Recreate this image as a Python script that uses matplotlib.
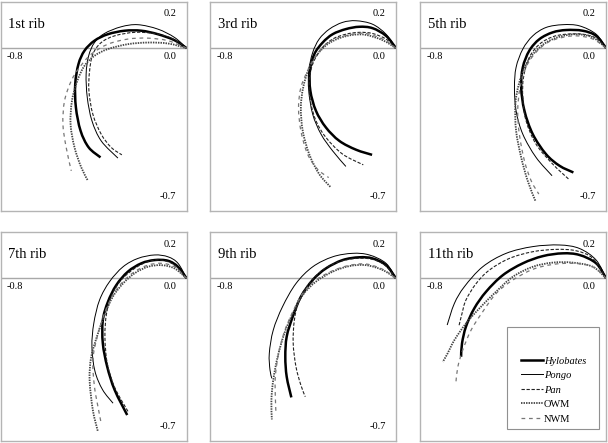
import matplotlib
matplotlib.use("Agg")
import matplotlib.pyplot as plt
import numpy as np
from matplotlib.path import Path
from matplotlib.patches import PathPatch, Rectangle
from matplotlib.lines import Line2D

plt.rcParams['font.family'] = ['Liberation Serif', 'DejaVu Serif']

# rib outlines, (x, y) pairs
# 1st rib
r1_hyl = [(0, 0), (-0.052, 0.034), (-0.124, 0.060), (-0.195, 0.075), (-0.267, 0.075), (-0.339, 0.060),
          (-0.397, 0.032), (-0.440, -0.011), (-0.466, -0.069), (-0.480, -0.155), (-0.477, -0.256),
          (-0.457, -0.356), (-0.422, -0.428), (-0.371, -0.471)]
r1_pon = [(0, 0), (-0.052, 0.046), (-0.124, 0.082), (-0.210, 0.101), (-0.282, 0.092), (-0.354, 0.063),
          (-0.397, 0.024), (-0.422, -0.033), (-0.433, -0.112), (-0.428, -0.213), (-0.408, -0.313),
          (-0.368, -0.400), (-0.296, -0.474)]
r1_pan = [(0, 0), (-0.066, 0.043), (-0.138, 0.063), (-0.224, 0.068), (-0.310, 0.053), (-0.368, 0.024),
          (-0.404, -0.026), (-0.418, -0.098), (-0.421, -0.184), (-0.404, -0.285), (-0.368, -0.371),
          (-0.325, -0.428), (-0.279, -0.460)]
r1_owm = [(0, 0), (-0.080, 0.020), (-0.167, 0.024), (-0.253, 0.017), (-0.339, -0.004), (-0.397, -0.033),
          (-0.440, -0.076), (-0.471, -0.141), (-0.494, -0.227), (-0.500, -0.328), (-0.483, -0.428),
          (-0.454, -0.514), (-0.425, -0.572)]
r1_nwm = [(0, 0), (-0.080, 0.032), (-0.167, 0.043), (-0.253, 0.039), (-0.339, 0.017), (-0.411, -0.026),
          (-0.461, -0.083), (-0.497, -0.141), (-0.526, -0.227), (-0.533, -0.328), (-0.519, -0.428),
          (-0.497, -0.529)]

# 3rd rib
r3_hyl = [(0, 0), (-0.043, 0.053), (-0.101, 0.086), (-0.158, 0.092), (-0.216, 0.082), (-0.273, 0.060),
          (-0.316, 0.024), (-0.352, -0.026), (-0.371, -0.098), (-0.369, -0.184), (-0.345, -0.270),
          (-0.302, -0.342), (-0.244, -0.400), (-0.172, -0.438), (-0.103, -0.460)]
r3_pon = [(0, 0), (-0.043, 0.060), (-0.101, 0.103), (-0.172, 0.118), (-0.230, 0.111), (-0.287, 0.082),
          (-0.331, 0.039), (-0.359, -0.019), (-0.376, -0.098), (-0.376, -0.184), (-0.359, -0.285),
          (-0.323, -0.371), (-0.273, -0.443), (-0.216, -0.510)]
r3_pan = [(0, 0), (-0.043, 0.039), (-0.101, 0.063), (-0.158, 0.068), (-0.216, 0.060), (-0.273, 0.039),
          (-0.323, -0.004), (-0.359, -0.069), (-0.374, -0.141), (-0.369, -0.227), (-0.345, -0.313),
          (-0.302, -0.385), (-0.230, -0.457), (-0.141, -0.503)]
r3_owm = [(0, 0), (-0.057, 0.034), (-0.129, 0.057), (-0.187, 0.057), (-0.244, 0.043), (-0.295, 0.017),
          (-0.338, -0.026), (-0.374, -0.083), (-0.400, -0.170), (-0.410, -0.256), (-0.402, -0.356),
          (-0.374, -0.457), (-0.331, -0.543), (-0.280, -0.601)]
r3_nwm = [(0, 0), (-0.057, 0.039), (-0.129, 0.063), (-0.187, 0.060), (-0.244, 0.046), (-0.302, 0.017),
          (-0.345, -0.033), (-0.381, -0.098), (-0.410, -0.170), (-0.420, -0.256), (-0.410, -0.356),
          (-0.381, -0.457), (-0.338, -0.522), (-0.290, -0.558)]

# 5th rib
r5_hyl = [(0, 0), (-0.043, 0.053), (-0.101, 0.075), (-0.172, 0.078), (-0.230, 0.068), (-0.287, 0.039),
          (-0.331, -0.011), (-0.359, -0.083), (-0.366, -0.170), (-0.352, -0.270), (-0.316, -0.371),
          (-0.259, -0.457), (-0.201, -0.507), (-0.141, -0.536)]
r5_pon = [(0, 0), (-0.043, 0.060), (-0.115, 0.096), (-0.187, 0.101), (-0.259, 0.089), (-0.316, 0.053),
          (-0.359, -0.004), (-0.388, -0.083), (-0.395, -0.170), (-0.388, -0.270), (-0.359, -0.371),
          (-0.302, -0.471), (-0.233, -0.550)]
r5_pan = [(0, 0), (-0.043, 0.043), (-0.101, 0.060), (-0.172, 0.060), (-0.230, 0.049), (-0.287, 0.017),
          (-0.331, -0.040), (-0.356, -0.126), (-0.359, -0.213), (-0.345, -0.313), (-0.302, -0.414),
          (-0.230, -0.500), (-0.161, -0.565)]
r5_owm = [(0, 0), (-0.057, 0.046), (-0.129, 0.060), (-0.201, 0.049), (-0.259, 0.024), (-0.309, -0.019),
          (-0.348, -0.076), (-0.376, -0.155), (-0.391, -0.241), (-0.388, -0.356), (-0.366, -0.471),
          (-0.338, -0.572), (-0.305, -0.658)]
r5_nwm = [(0, 0), (-0.057, 0.039), (-0.129, 0.053), (-0.201, 0.043), (-0.259, 0.020), (-0.309, -0.026),
          (-0.345, -0.083), (-0.371, -0.170), (-0.381, -0.270), (-0.374, -0.371), (-0.352, -0.486),
          (-0.323, -0.572), (-0.290, -0.629)]

# 7th rib
r7_hyl = [(0, 0), (-0.037, 0.050), (-0.080, 0.076), (-0.138, 0.079), (-0.195, 0.065), (-0.253, 0.029),
          (-0.303, -0.029), (-0.339, -0.101), (-0.361, -0.180), (-0.361, -0.280), (-0.342, -0.381),
          (-0.310, -0.481), (-0.256, -0.589)]
r7_pon = [(0, 0), (-0.037, 0.065), (-0.080, 0.093), (-0.138, 0.101), (-0.210, 0.086), (-0.274, 0.050),
          (-0.332, -0.014), (-0.375, -0.093), (-0.400, -0.194), (-0.408, -0.295), (-0.395, -0.400),
          (-0.362, -0.480), (-0.317, -0.538)]
r7_pan = [(0, 0), (-0.052, 0.057), (-0.109, 0.079), (-0.167, 0.072), (-0.224, 0.043), (-0.282, -0.007),
          (-0.322, -0.072), (-0.345, -0.151), (-0.352, -0.251), (-0.342, -0.366), (-0.310, -0.470),
          (-0.250, -0.578)]
r7_owm = [(0, 0), (-0.052, 0.043), (-0.109, 0.057), (-0.167, 0.050), (-0.224, 0.022), (-0.274, -0.022),
          (-0.318, -0.079), (-0.351, -0.151), (-0.382, -0.237), (-0.411, -0.338), (-0.418, -0.438),
          (-0.404, -0.568), (-0.382, -0.661)]
r7_nwm = [(0, 0), (-0.052, 0.050), (-0.109, 0.065), (-0.167, 0.057), (-0.224, 0.029), (-0.274, -0.014),
          (-0.318, -0.072), (-0.354, -0.151), (-0.385, -0.251), (-0.404, -0.352), (-0.397, -0.467),
          (-0.382, -0.553), (-0.368, -0.625)]

# 9th rib
r9_hyl = [(0, 0), (-0.043, 0.057), (-0.101, 0.086), (-0.158, 0.091), (-0.230, 0.079), (-0.302, 0.043),
          (-0.359, -0.007), (-0.410, -0.079), (-0.445, -0.165), (-0.471, -0.251), (-0.477, -0.338),
          (-0.471, -0.424), (-0.451, -0.513)]
r9_pon = [(0, 0), (-0.043, 0.065), (-0.115, 0.101), (-0.187, 0.108), (-0.273, 0.093), (-0.359, 0.050),
          (-0.431, -0.022), (-0.489, -0.122), (-0.529, -0.223), (-0.546, -0.323), (-0.543, -0.395),
          (-0.535, -0.431)]
r9_pan = [(0, 0), (-0.043, 0.053), (-0.101, 0.082), (-0.172, 0.086), (-0.244, 0.072), (-0.316, 0.036),
          (-0.374, -0.022), (-0.417, -0.093), (-0.438, -0.180), (-0.443, -0.280), (-0.431, -0.381),
          (-0.410, -0.460), (-0.391, -0.510)]
r9_owm = [(0, 0), (-0.057, 0.036), (-0.129, 0.057), (-0.201, 0.053), (-0.273, 0.029), (-0.345, -0.014),
          (-0.402, -0.072), (-0.445, -0.151), (-0.481, -0.237), (-0.510, -0.338), (-0.529, -0.438),
          (-0.537, -0.525), (-0.535, -0.608)]
r9_nwm = [(0, 0), (-0.057, 0.039), (-0.129, 0.062), (-0.201, 0.056), (-0.273, 0.033), (-0.345, -0.007),
          (-0.402, -0.065), (-0.445, -0.144), (-0.481, -0.230), (-0.506, -0.323), (-0.520, -0.424),
          (-0.520, -0.510), (-0.517, -0.585)]

# 11th rib
r11_hyl = [(0, 0), (-0.043, 0.065), (-0.115, 0.101), (-0.187, 0.108), (-0.273, 0.096), (-0.359, 0.065),
           (-0.445, 0.014), (-0.517, -0.057), (-0.568, -0.129), (-0.604, -0.208), (-0.621, -0.280),
           (-0.625, -0.338)]
r11_pon = [(0, 0), (-0.043, 0.079), (-0.115, 0.129), (-0.201, 0.144), (-0.316, 0.137), (-0.431, 0.108),
           (-0.532, 0.050), (-0.611, -0.036), (-0.654, -0.108), (-0.685, -0.201)]
r11_pan = [(0, 0), (-0.057, 0.086), (-0.129, 0.119), (-0.216, 0.125), (-0.316, 0.115), (-0.417, 0.086),
           (-0.503, 0.036), (-0.560, -0.022), (-0.604, -0.093), (-0.621, -0.151), (-0.635, -0.208)]
r11_owm = [(0, 0), (-0.057, 0.050), (-0.144, 0.068), (-0.230, 0.068), (-0.316, 0.050), (-0.402, 0.007),
           (-0.474, -0.057), (-0.546, -0.129), (-0.604, -0.194), (-0.654, -0.266), (-0.683, -0.323),
           (-0.704, -0.360)]
r11_nwm = [(0, 0), (-0.057, 0.050), (-0.144, 0.065), (-0.230, 0.060), (-0.316, 0.039), (-0.402, -0.007),
           (-0.474, -0.065), (-0.532, -0.144), (-0.582, -0.223), (-0.618, -0.309), (-0.639, -0.381),
           (-0.647, -0.445)]

rib_titles = ['1st rib', '3rd rib', '5th rib', '7th rib', '9th rib', '11th rib']
rib_curves = [
    [r1_hyl, r1_pon, r1_pan, r1_owm, r1_nwm],
    [r3_hyl, r3_pon, r3_pan, r3_owm, r3_nwm],
    [r5_hyl, r5_pon, r5_pan, r5_owm, r5_nwm],
    [r7_hyl, r7_pon, r7_pan, r7_owm, r7_nwm],
    [r9_hyl, r9_pon, r9_pan, r9_owm, r9_nwm],
    [r11_hyl, r11_pon, r11_pan, r11_owm, r11_nwm],
]
taxa = ['Hylobates', 'Pongo', 'Pan', 'OWM', 'NWM']

# line style per taxon
styles = [
    dict(color='black', lw=1.8, ls='-'),
    dict(color='black', lw=0.7, ls='-'),
    dict(color='#222222', lw=0.8, ls=(0, (3, 1.5))),
    dict(color='#444444', lw=1.3, ls=(0, (0.8, 0.6))),
    dict(color='#777777', lw=0.9, ls=(0, (3, 3))),
]


def smooth_path(pts):
    # Catmull-Rom through the read points, as cubic bezier segments
    p = np.array(pts, dtype=float)
    ext = np.vstack([p[0], p, p[-1]])
    verts = [p[0]]
    codes = [Path.MOVETO]
    for i in range(1, len(ext) - 2):
        c1 = ext[i] + (ext[i + 1] - ext[i - 1]) / 6
        c2 = ext[i + 1] - (ext[i + 2] - ext[i]) / 6
        verts += [c1, c2, ext[i + 1]]
        codes += [Path.CURVE4] * 3
    return Path(verts, codes)


fig = plt.figure(figsize=(6.08, 4.43), dpi=100)

lefts = [0.0016, 0.346, 0.6916]
bottoms = [0.5248, 0.005]
w, h = 0.3053, 0.4713

for k, title in enumerate(rib_titles):
    row, col = divmod(k, 3)
    ax = fig.add_axes([lefts[col], bottoms[row], w, h])
    ax.set_xlim(-0.8, 0.0)
    ax.set_ylim(-0.7, 0.2)
    ax.set_xticks([])
    ax.set_yticks([])
    for s in ax.spines.values():
        s.set_color('#b4b4b4')
        s.set_linewidth(1.0)
    ax.axhline(0, color='#a8a8a8', lw=1.0, zorder=1)

    for pts, st in zip(rib_curves[k], styles):
        ax.add_patch(PathPatch(smooth_path(pts), fill=False, edgecolor=st['color'],
                               linewidth=st['lw'], linestyle=st['ls'], capstyle='butt', zorder=3))

    ax.text(0.04, 0.89, title, transform=ax.transAxes, fontsize=10.5, ha='left', va='center')
    ax.text(-0.044, 0.148, '0.2', fontsize=7.5, ha='right', va='center')
    ax.text(-0.774, -0.035, '-0.8', fontsize=7.5, ha='left', va='center')
    ax.text(-0.044, -0.035, '0.0', fontsize=7.5, ha='right', va='center')
    if k != 5:
        ax.text(-0.044, -0.64, '-0.7', fontsize=7.5, ha='right', va='center')

    if k == 5:
        ax.add_patch(Rectangle((0.466, 0.057), 0.498, 0.487, transform=ax.transAxes,
                               facecolor='white', edgecolor='#909090', lw=0.8, zorder=5))
        handles = [Line2D([], [], color=st['color'], lw=st['lw'], ls=st['ls']) for st in styles]
        leg = ax.legend(handles, taxa, loc='upper left', bbox_to_anchor=(0.54, 0.405),
                        fontsize=7.5, frameon=False, handlelength=2.1, handletextpad=0.1,
                        labelspacing=0.5, borderpad=0, borderaxespad=0)
        leg.set_zorder(6)
        for t in leg.get_texts()[:3]:
            t.set_fontstyle('italic')

fig.savefig('out.png', dpi=100)
